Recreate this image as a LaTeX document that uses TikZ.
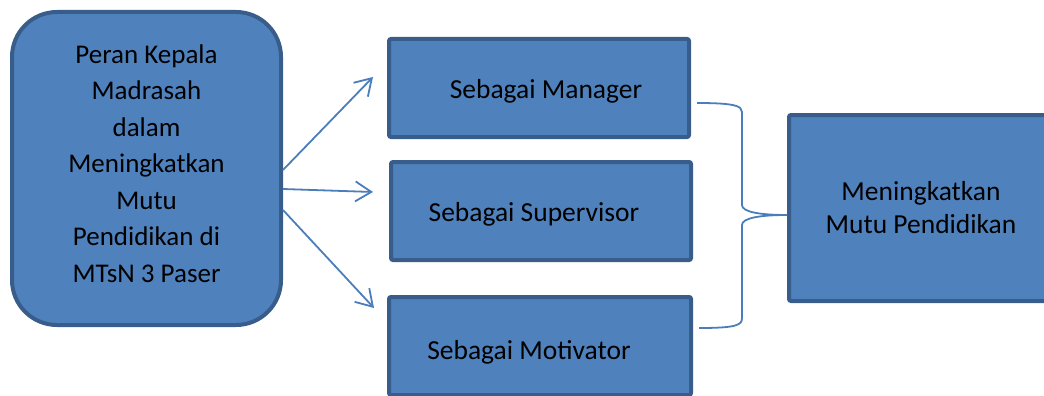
\documentclass[tikz,border=0pt]{standalone}
\usepackage{fontspec}
\setmainfont{Carlito}
\usetikzlibrary{positioning, arrows.meta, calc}
\usepackage{xcolor}

\definecolor{boxfill}{HTML}{4F81BD}
\definecolor{boxline}{HTML}{385D8A}
\definecolor{linkblue}{HTML}{4A7EBB}

\begin{document}
\begin{tikzpicture}[x=1pt, y=-1pt, font=\fontsize{27.5}{33}\selectfont]

        % Styles
        \tikzstyle{blok} = [draw=boxline, fill=boxfill, line width=4pt, rounded corners=2pt, inner sep=0pt]
        \tikzstyle{panah} = [draw=linkblue, line width=1.8pt, -{Straight Barb[length=16pt,width=20pt]}]
        \tikzstyle{kurung} = [draw=linkblue, line width=1.8pt]

        % Canvas
        \useasboundingbox (0,0) rectangle (1044,396);
        \clip (0,0) rectangle (1044,396);

        % --- LEFT: PERAN ---
        \node[blok, rounded corners=45pt, minimum width=269pt, minimum height=313pt,
              label={[yshift=5pt, align=center, font=\fontsize{27}{36.5}\selectfont]center:Peran Kepala\\Madrasah\\dalam\\Meningkatkan\\Mutu\\Pendidikan di\\MTsN 3 Paser}]
              (peran) at (146.5,168.5) {};

        % --- MIDDLE: TIGA PERAN ---
        \node[blok, minimum width=300pt, minimum height=98pt,
              label={[xshift=7pt, yshift=-3pt]center:Sebagai Manager}] (manager) at (539,88) {};
        \node[blok, minimum width=300pt, minimum height=98pt,
              label={[xshift=-7pt, yshift=-3pt]center:Sebagai Supervisor}] (supervisor) at (541,211) {};
        \node[blok, minimum width=302pt, minimum height=98pt,
              label={[xshift=-11pt, yshift=-6pt]center:Sebagai Motivator}] (motivator) at (540,346) {};

        % --- RIGHT: TUJUAN ---
        \node[blok, minimum width=264pt, minimum height=186pt, align=center] (mutu) at (921,208)
              {Meningkatkan\\Mutu Pendidikan};

        % --- ARROWS ---
        \draw[panah] ([yshift=-1.5pt]peran.east) -- ([xshift=-14pt, yshift=11pt]manager.west);
        \draw[panah] ([yshift=-20.5pt]peran.east) -- ([xshift=-16pt, yshift=19pt]supervisor.west);
        \draw[panah] ([yshift=-41.5pt]peran.east) -- ([xshift=-13pt, yshift=38pt]motivator.west);

        % --- BRACE ---
        \draw[kurung] ([xshift=6pt, yshift=-15pt]manager.east) .. controls +(38,0) and +(0,-6) .. (742,112)
              -- (742,205) .. controls +(0,7) and +(-27,0) .. ([yshift=-7pt]mutu.west);
        \draw[kurung] ([yshift=-7pt]mutu.west) .. controls +(-27,0) and +(0,-7) .. (742,225)
              -- (742,318) .. controls +(0,7) and +(38,0) .. ([xshift=6pt, yshift=18pt]motivator.east);

\end{tikzpicture}
\end{document}
